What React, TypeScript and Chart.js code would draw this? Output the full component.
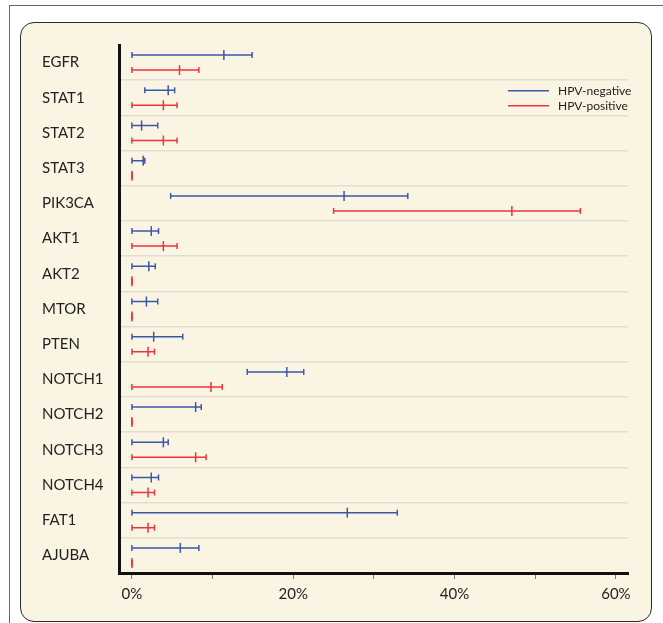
import React, { useEffect, useRef } from "react";
import { Chart, registerables } from "chart.js";

Chart.register(...registerables);

const genes = [
  "EGFR", "STAT1", "STAT2", "STAT3", "PIK3CA", "AKT1", "AKT2", "MTOR",
  "PTEN", "NOTCH1", "NOTCH2", "NOTCH3", "NOTCH4", "FAT1", "AJUBA",
];

const negLow = [0, 1.6, 0, 0, 4.8, 0, 0, 0, 0, 14.3, 0, 0, 0, 0, 0];
const negMid = [11.4, 4.5, 1.2, 1.4, 26.3, 2.4, 2.1, 1.8, 2.7, 19.2, 7.9, 3.9, 2.4, 26.7, 6.0];
const negHigh = [14.9, 5.3, 3.2, 1.6, 34.2, 3.3, 2.9, 3.2, 6.3, 21.3, 8.6, 4.5, 3.3, 32.9, 8.3];

const posLow = [0, 0, 0, 0, 25.0, 0, 0, 0, 0, 0, 0, 0, 0, 0, 0];
const posMid = [5.9, 3.9, 3.9, 0, 47.1, 3.9, 0, 0, 2.0, 9.8, 0, 7.9, 2.0, 2.0, 0];
const posHigh = [8.3, 5.6, 5.6, 0, 55.6, 5.6, 0, 0, 2.8, 11.2, 0, 9.2, 2.8, 2.8, 0];

const xTicks = [0, 10, 20, 30, 40, 50, 60];
const xLabeled = [0, 20, 40, 60];

const seriesNames = ["HPV-negative", "HPV-positive"];
const BLUE = "rgb(58, 88, 172)";
const RED = "rgb(236, 52, 62)";

function buildSeries(low: number[], mid: number[], high: number[], offset: number) {
  const pts: any[] = [];
  genes.forEach((_, i) => {
    const y = i + offset;
    pts.push({ x: low[i], y }, { x: mid[i], y }, { x: high[i], y }, { x: null, y: null });
  });
  return pts;
}

const cornerLegend = {
  id: "cornerLegend",
  afterDraw(chart: any) {
    const { ctx, chartArea } = chart;
    chart.data.datasets.forEach((ds: any, k: number) => {
      const y = chartArea.top + 45.7 + k * 15;
      const x0 = chartArea.right - 120;
      ctx.save();
      ctx.strokeStyle = ds.borderColor;
      ctx.lineWidth = 1.5;
      ctx.beginPath();
      ctx.moveTo(x0, y);
      ctx.lineTo(x0 + 41, y);
      ctx.stroke();
      ctx.fillStyle = "#222";
      ctx.font = "12px Lato";
      ctx.textBaseline = "middle";
      ctx.textAlign = "left";
      ctx.fillText(ds.label, x0 + 50, y);
      ctx.restore();
    });
  },
};

export default function App() {
  const ref = useRef<HTMLCanvasElement | null>(null);

  useEffect(() => {
    if (!ref.current) return;
    const pointRadius = (c: any) => (c.dataIndex % 4 === 1 ? 5 : 3);
    const chart = new Chart(ref.current, {
      type: "scatter",
      data: {
        datasets: [
          {
            label: seriesNames[0],
            data: buildSeries(negLow, negMid, negHigh, -0.213),
            borderColor: BLUE,
            backgroundColor: BLUE,
            showLine: true,
            spanGaps: false,
            borderWidth: 1.5,
            pointStyle: "line",
            rotation: 90,
            pointRadius,
            pointBorderWidth: 1.5,
            pointBorderColor: BLUE,
          } as any,
          {
            label: seriesNames[1],
            data: buildSeries(posLow, posMid, posHigh, 0.213),
            borderColor: RED,
            backgroundColor: RED,
            showLine: true,
            spanGaps: false,
            borderWidth: 1.5,
            pointStyle: "line",
            rotation: 90,
            pointRadius,
            pointBorderWidth: 1.5,
            pointBorderColor: RED,
          } as any,
        ],
      },
      options: {
        animation: false,
        responsive: false,
        devicePixelRatio: 1,
        layout: { padding: { top: 45, left: 42, right: 35, bottom: 10 } },
        plugins: {
          legend: { display: false },
          tooltip: { enabled: false },
        },
        font: { family: "Lato" } as any,
        scales: {
          x: {
            type: "linear",
            position: "bottom",
            min: -1.6,
            max: 61.5,
            afterBuildTicks: (s: any) => {
              s.ticks = xTicks.map((v) => ({ value: v }));
            },
            afterFit: (s: any) => {
              s.height = 40;
            },
            ticks: {
              font: { family: "Lato", size: 15 },
              color: "#222",
              padding: 6,
              maxRotation: 0,
              autoSkip: false,
              callback: (v: any) => (xLabeled.includes(Number(v)) ? `${v}%` : ""),
            },
            grid: {
              display: true,
              drawOnChartArea: false,
              drawTicks: true,
              tickLength: 6,
              tickColor: "#777",
              tickWidth: 1,
            },
            border: { display: true, color: "#111", width: 3 },
          },
          y: {
            type: "linear",
            position: "left",
            reverse: true,
            min: -0.5,
            max: genes.length - 0.5,
            afterBuildTicks: (s: any) => {
              s.ticks = genes.map((_, i) => ({ value: i }));
            },
            afterFit: (s: any) => {
              s.width = 77;
            },
            ticks: {
              font: { family: "Lato", size: 15 },
              color: "#222",
              crossAlign: "far",
              autoSkip: false,
              callback: (v: any) => genes[Number(v)] ?? "",
            },
            grid: {
              display: true,
              offset: true,
              drawTicks: false,
              lineWidth: 1.5,
              color: (c: any) =>
                c.index === undefined || c.index === 0 ? "rgba(0,0,0,0)" : "rgb(226, 221, 211)",
            },
            border: { display: true, color: "#111", width: 3 },
          },
        },
      } as any,
      plugins: [cornerLegend],
    });
    return () => chart.destroy();
  }, []);

  return (
    <div
      style={{
        position: "fixed",
        left: 0,
        top: 0,
        width: 663,
        height: 623,
        background: "#fff",
        overflow: "hidden",
      }}
    >
      <div
        style={{
          position: "absolute",
          left: 9,
          top: 5,
          width: 700,
          height: 700,
          borderTop: "1px solid #666",
          borderLeft: "1px solid #666",
        }}
      />
      <div
        style={{
          position: "absolute",
          left: 20,
          top: 22,
          width: 632,
          height: 600,
          boxSizing: "border-box",
          border: "1.5px solid #2a2a2a",
          borderRadius: 14,
          background: "#faf4e3",
        }}
      />
      <canvas
        ref={ref}
        width={663}
        height={623}
        style={{ position: "absolute", left: 0, top: 0, width: 663, height: 623 }}
      />
    </div>
  );
}
